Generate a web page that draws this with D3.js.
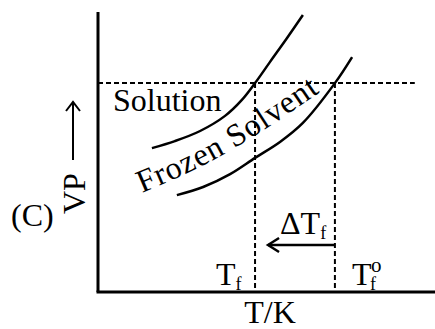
<!DOCTYPE html>
<html>
<head>
<meta charset="utf-8">
<script src="https://cdn.jsdelivr.net/npm/d3@7"></script>
<style>
  html, body { margin: 0; padding: 0; background: #fff; }
</style>
</head>
<body>
<div id="chart"></div>
<script>
// curve readings (T in % of axis, VP in % of axis)
const solutionT  = [16.0, 22.8, 30.3, 37.7, 42.7, 46.6, 51.0, 56.1, 60.8];
const solutionVP = [51.4, 53.9, 57.5, 62.9, 68.6, 74.6, 82.1, 90.7, 98.9];
const frozenT  = [23.4, 31.2, 39.2, 46.6, 54.0, 60.8, 70.3, 75.4];
const frozenVP = [34.6, 37.5, 42.1, 47.9, 53.6, 60.4, 74.6, 83.9];
const refVP = 74.6;     // vapour pressure of pure solvent at its freezing point
const Tf = 46.6;        // freezing point of solution
const Tf0 = 70.3;       // freezing point of pure solvent
const refLineEnd = 94;

const width = 435, height = 329;
const fs = 32;

const svg = d3.select('#chart')
  .append('svg')
  .attr('width', width)
  .attr('height', height)
  .attr('font-family', 'Liberation Serif');

const x = d3.scaleLinear().domain([0, 100]).range([98, 435]);
const y = d3.scaleLinear().domain([0, 100]).range([292, 12]);

const line = d3.line()
  .x(d => x(d[0]))
  .y(d => y(d[1]))
  .curve(d3.curveCatmullRom);

// axes
svg.append('line')
  .attr('x1', x(0)).attr('y1', y(0))
  .attr('x2', x(0)).attr('y2', y(100))
  .attr('stroke', '#000').attr('stroke-width', 3);
svg.append('line')
  .attr('x1', x(0) - 1.5).attr('y1', y(0))
  .attr('x2', x(100)).attr('y2', y(0))
  .attr('stroke', '#000').attr('stroke-width', 3);

// dashed guide lines
const dash = '5,3';
svg.append('line')
  .attr('x1', x(0)).attr('y1', y(refVP))
  .attr('x2', x(refLineEnd)).attr('y2', y(refVP))
  .attr('stroke', '#000').attr('stroke-width', 2).attr('stroke-dasharray', dash);
[Tf, Tf0].forEach(t => {
  svg.append('line')
    .attr('x1', x(t)).attr('y1', y(refVP))
    .attr('x2', x(t)).attr('y2', y(0))
    .attr('stroke', '#000').attr('stroke-width', 2).attr('stroke-dasharray', dash);
});

// curves
svg.append('path')
  .attr('d', line(d3.zip(solutionT, solutionVP)))
  .attr('fill', 'none').attr('stroke', '#000').attr('stroke-width', 2.5);
svg.append('path')
  .attr('d', line(d3.zip(frozenT, frozenVP)))
  .attr('fill', 'none').attr('stroke', '#000').attr('stroke-width', 2.5);

// labels
svg.append('text')
  .attr('x', 113).attr('y', 111)
  .attr('font-size', fs)
  .text('Solution');

svg.append('defs').append('path')
  .attr('id', 'frozenPath')
  .attr('d', d3.line().curve(d3.curveNatural)([[142, 193], [228, 152], [326, 88]]));
svg.append('text')
  .attr('font-size', fs)
  .attr('letter-spacing', 0.8)
  .append('textPath')
  .attr('href', '#frozenPath')
  .text('Frozen Solvent');

// ΔTf arrow
const arrowY = 245;
svg.append('line')
  .attr('x1', x(Tf0)).attr('y1', arrowY)
  .attr('x2', x(Tf) + 13).attr('y2', arrowY)
  .attr('stroke', '#000').attr('stroke-width', 2.5);
svg.append('path')
  .attr('d', `M${x(Tf) + 24},${arrowY - 7} L${x(Tf) + 13},${arrowY} L${x(Tf) + 24},${arrowY + 7}`)
  .attr('fill', 'none').attr('stroke', '#000').attr('stroke-width', 2.5);

const dT = svg.append('text').attr('x', 280).attr('y', 234).attr('font-size', fs);
dT.append('tspan').text('ΔT');
dT.append('tspan').attr('dy', 5).attr('font-size', 18).text('f');

const tf = svg.append('text').attr('x', 216).attr('y', 285).attr('font-size', fs);
tf.append('tspan').text('T');
tf.append('tspan').attr('dy', 5).attr('font-size', 18).text('f');

const tf0 = svg.append('text').attr('x', 352).attr('y', 285).attr('font-size', fs);
tf0.append('tspan').text('T');
tf0.append('tspan').attr('x', 370).attr('dy', 5).attr('font-size', 18).text('f');
tf0.append('tspan').attr('x', 371).attr('dy', -18).attr('font-size', 21).text('o');

svg.append('text')
  .attr('x', 270).attr('y', 323)
  .attr('text-anchor', 'middle')
  .attr('font-size', fs)
  .text('T/K');

svg.append('text')
  .attr('x', 11).attr('y', 226)
  .attr('font-size', fs)
  .text('(C)');

svg.append('text')
  .attr('transform', 'translate(85,214) rotate(-90)')
  .attr('font-size', fs)
  .text('VP');

// VP arrow
svg.append('line')
  .attr('x1', 73).attr('y1', 160).attr('x2', 73).attr('y2', 102)
  .attr('stroke', '#000').attr('stroke-width', 2);
svg.append('path')
  .attr('d', 'M66,111 L73,102 L80,111')
  .attr('fill', 'none').attr('stroke', '#000').attr('stroke-width', 2);
</script>
</body>
</html>
